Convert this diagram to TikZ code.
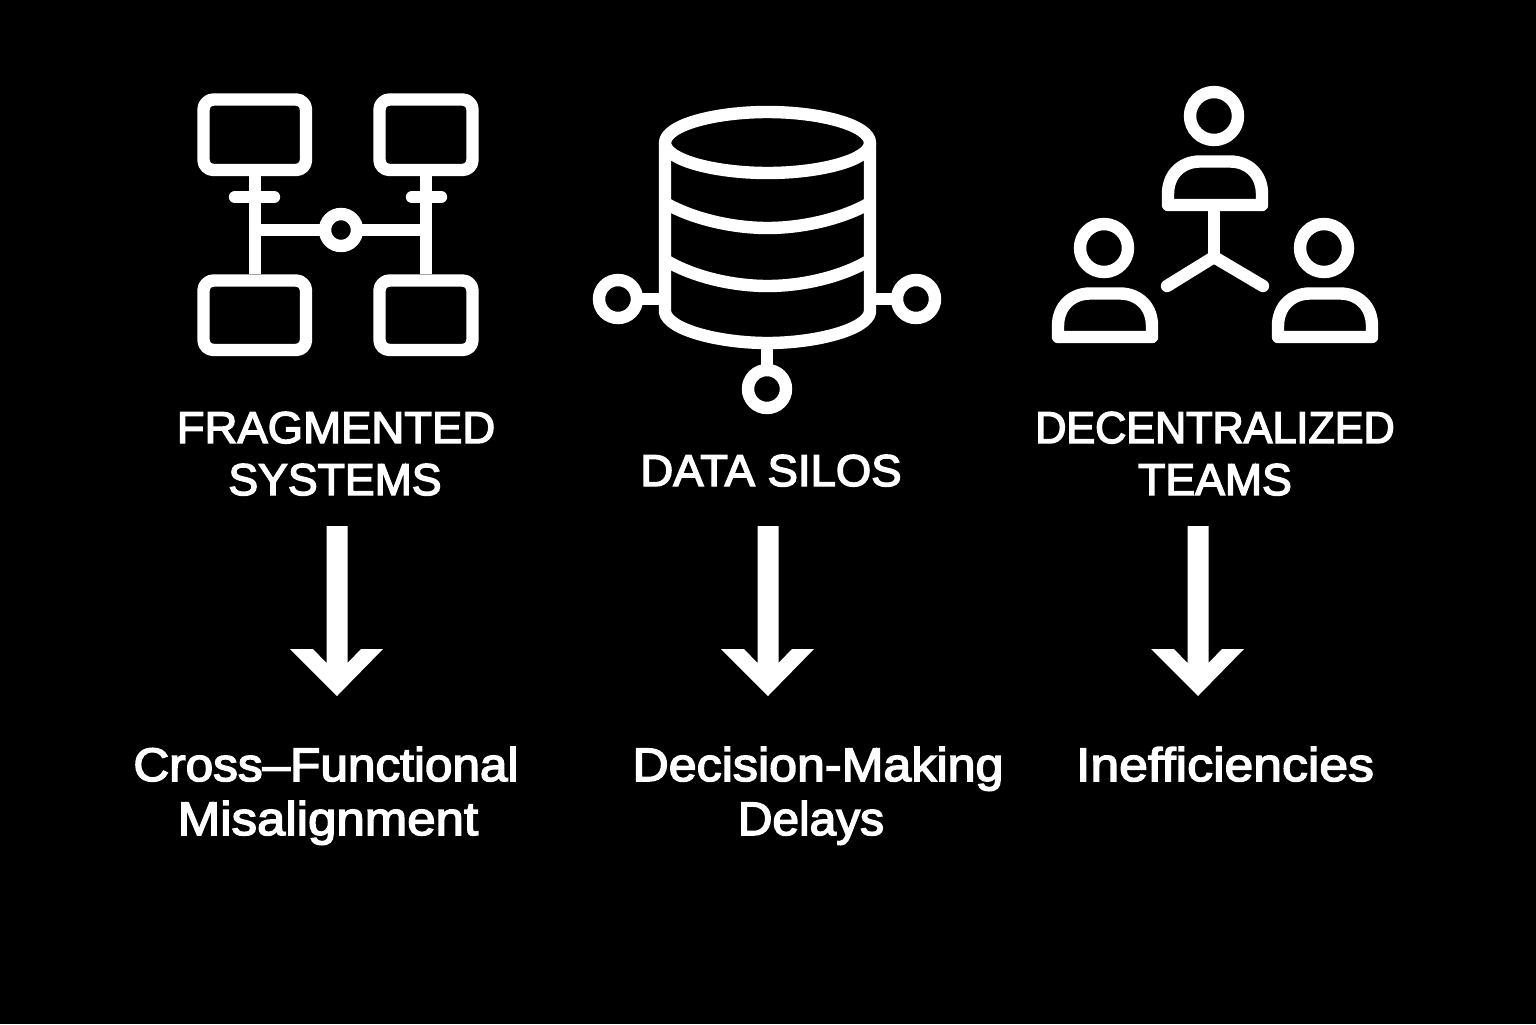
\documentclass[tikz,border=0pt]{standalone}
\usepackage{fontspec}
\setmainfont{Liberation Sans}
\newfontfamily\capsfont[FakeBold=3.2]{Liberation Sans}
\newfontfamily\capswide[FakeBold=3.2,FakeStretch=1.02]{Liberation Sans}
\newfontfamily\capsnarrow[FakeBold=3.2,FakeStretch=0.967]{Liberation Sans}
\newfontfamily\crossfont[FakeBold=3.2,FakeStretch=1.053]{Liberation Sans}
\newfontfamily\misfont[FakeBold=3.2,FakeStretch=1.085]{Liberation Sans}
\newfontfamily\decfont[FakeBold=3.2,FakeStretch=1.068]{Liberation Sans}
\newfontfamily\delfont[FakeBold=3.2,FakeStretch=1.017]{Liberation Sans}
\newfontfamily\inefffont[FakeBold=3.2,FakeStretch=1.10]{Liberation Sans}
\tikzset{
  icon/.style={draw=white,line width=6.2pt,line join=round},
  thin icon/.style={draw=white,line width=6.2pt,line cap=round,line join=round},
  ring/.style={circle,draw=white,line width=6.2pt,inner sep=0pt,outer sep=0pt,fill=black},
  caps/.style={text=white,font=\fontsize{22.3}{26}\selectfont,anchor=base,inner sep=0pt},
  outcome/.style={text=white,font=\fontsize{23.5}{27}\selectfont,anchor=base,inner sep=0pt},
  downarrow/.style={fill=white}
}
\begin{document}
\begin{tikzpicture}[x=0.5pt,y=-0.5pt]
\fill[black] (0,0) rectangle (1536,1024);
\useasboundingbox (0,0) rectangle (1536,1024);
% Icon 1
\draw[icon] (255,176) -- (255,274);
\draw[icon] (426,176) -- (426,274);
\draw[icon] (255,230) -- (426,230);
\draw[thin icon] (235,197) -- (274,197);
\draw[thin icon] (412,197) -- (441,197);
\draw[icon,rounded corners=5pt] (203.5,99.5) rectangle (306,170);
\draw[icon,rounded corners=5pt] (379.5,99.5) rectangle (472.5,170);
\draw[icon,rounded corners=5pt] (203.5,280.5) rectangle (306,350);
\draw[icon,rounded corners=5pt] (379.5,280.5) rectangle (472.5,350);
\node[ring,minimum size=16pt] (hub) at (341,230) {};
% Icon 2
\draw[icon] (767.5,112) .. controls (715,112) and (665,125) .. (665,143) .. controls (665,160) and (715,173) .. (767.5,173) .. controls (820,173) and (870,160) .. (870,143) .. controls (870,125) and (820,112) .. (767.5,112) -- cycle;
\draw[icon] (665,143) -- (665,312) .. controls (668,330) and (720,343) .. (767.5,343) .. controls (815,343) and (867,330) .. (870,312) -- (870,143);
\draw[icon] (665,203) .. controls (695,220) and (735,228) .. (767.5,228) .. controls (800,228) and (840,220) .. (870,203);
\draw[icon] (665,260) .. controls (695,278) and (735,286) .. (767.5,286) .. controls (800,286) and (840,278) .. (870,260);
\node[ring,minimum size=19pt] (dl) at (618,299) {};
\node[ring,minimum size=19pt] (dr) at (916,299) {};
\node[ring,minimum size=19pt] (db) at (767,389) {};
\coordinate (wl) at (665,299);
\coordinate (wr) at (870,299);
\coordinate (wb) at (767,343);
\draw[icon] (dl) -- (wl);
\draw[icon] (dr) -- (wr);
\draw[icon] (db) -- (wb);
% Icon 3
\node[ring,minimum size=24pt] (h1) at (1214,116) {};
\node[ring,minimum size=24pt] (h2) at (1104,248) {};
\node[ring,minimum size=24pt] (h3) at (1324,248) {};
\draw[icon] (1168,205) -- (1168,194) .. controls (1168,174) and (1182,161.5) .. (1200,161.5) -- (1230,161.5) .. controls (1248,161.5) and (1262,174) .. (1262,194) -- (1262,205) -- cycle;
\draw[icon] (1058,337) -- (1058,326) .. controls (1058,306) and (1072,293.5) .. (1090,293.5) -- (1120,293.5) .. controls (1138,293.5) and (1152,306) .. (1152,326) -- (1152,337) -- cycle;
\draw[icon] (1278,337) -- (1278,326) .. controls (1278,306) and (1292,293.5) .. (1310,293.5) -- (1340,293.5) .. controls (1358,293.5) and (1372,306) .. (1372,326) -- (1372,337) -- cycle;
\draw[icon] (1214,205) -- (1214,257);
\draw[thin icon] (1167,286) -- (1214,257) -- (1263,286);
% Labels
\node[caps] (a1a) at (336,443) {\capswide FRAGMENTED};
\node[caps] (a1b) at (335,495) {\capsfont SYSTEMS};
\node[caps] (a2) at (771,486) {\capswide DATA SILOS};
\node[caps] (a3a) at (1215,443) {\capsnarrow DECENTRALIZED};
\node[caps] (a3b) at (1215,495) {\capsfont TEAMS};
\node[outcome] (b1a) at (326,781) {\crossfont Cross–Functional};
\node[outcome] (b1b) at (328,835) {\misfont Misalignment};
\node[outcome] (b2a) at (818,781) {\decfont Decision-Making};
\node[outcome] (b2b) at (811,835) {\delfont Delays};
\node[outcome] (b3) at (1225,781) {\inefffont Inefficiencies};
% Arrows
\foreach \ax in {337,768,1198}{
  \fill[downarrow,shift={(\ax,0)}] (-10.5,526) -- (10.5,526) -- (10.5,663) -- (24,649) -- (46,649) -- (0,696) -- (-47,649) -- (-24,649) -- (-10.5,663) -- cycle;
}
\end{tikzpicture}
\end{document}
